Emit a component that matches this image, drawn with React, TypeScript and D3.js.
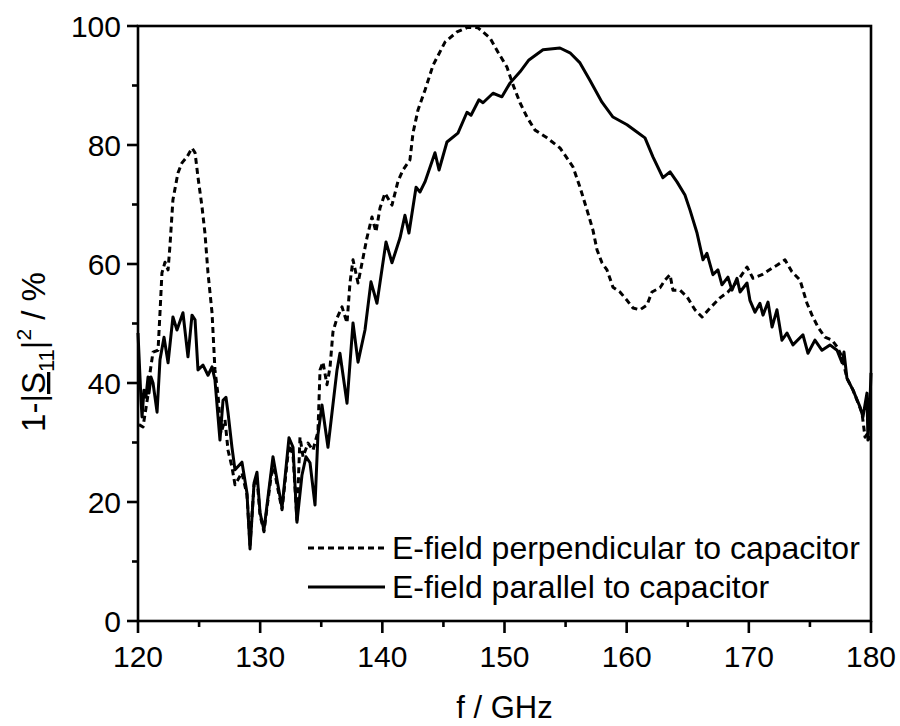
import React from "react";
import * as d3 from "d3";

const xTicks = [120, 130, 140, 150, 160, 170, 180];
const xMinorTicks = [125, 135, 145, 155, 165, 175];
const yTicks = [0, 20, 40, 60, 80, 100];
const yMinorTicks = [10, 30, 50, 70, 90];

const legendLabels = ["E-field perpendicular to capacitor", "E-field parallel to capacitor"];

// E-field perpendicular (dashed)
const perpF = [120.08, 120.41, 120.82, 120.98, 121.23, 121.64, 121.8, 121.96, 122.21, 122.46, 122.62, 122.86, 123.27, 123.6, 124.01, 124.42, 124.67, 124.91, 125.24, 125.48, 125.73, 126.06, 126.3, 126.55, 126.79, 127.12, 127.37, 127.69, 127.94, 128.51, 128.92, 129.17, 129.5, 129.74, 129.99, 130.31, 130.64, 131.05, 131.38, 131.79, 132.36, 132.69, 133.01, 133.26, 133.51, 133.92, 134.32, 134.73, 134.9, 135.14, 135.47, 135.72, 135.96, 136.29, 136.7, 137.11, 137.35, 137.6, 138.01, 138.34, 138.74, 139.15, 139.48, 139.81, 140.22, 140.79, 141.28, 141.69, 142.26, 142.51, 142.92, 143.49, 144.15, 145.13, 146.11, 147.01, 147.83, 148.81, 149.47, 150.2, 150.7, 151.27, 151.84, 152.5, 153.48, 154.54, 154.95, 155.61, 156.18, 156.75, 157.24, 157.57, 157.98, 158.39, 158.88, 159.45, 160.03, 160.52, 161.09, 161.66, 162.07, 162.73, 163.14, 163.55, 163.79, 164.36, 164.94, 165.59, 166.17, 166.82, 167.64, 168.29, 169.03, 169.85, 170.34, 171.08, 171.9, 172.3, 172.96, 173.53, 174.19, 174.76, 175.17, 175.66, 176.23, 176.81, 177.22, 177.63, 178.03, 178.53, 179.26, 179.51, 179.75, 179.92];
const perpV = [33.0, 32.6, 38.0, 41.7, 45.2, 45.5, 51.8, 58.5, 60.3, 59.0, 63.2, 70.8, 75.3, 77.0, 78.0, 79.5, 78.7, 74.6, 69.6, 65.2, 58.5, 51.8, 42.2, 38.0, 31.6, 33.8, 28.7, 25.9, 22.9, 24.9, 21.2, 12.8, 22.9, 24.0, 17.8, 15.0, 20.3, 26.7, 22.9, 18.7, 29.6, 27.9, 17.0, 30.9, 27.6, 29.9, 28.7, 31.8, 42.2, 43.5, 39.7, 42.7, 48.6, 50.9, 52.8, 50.1, 56.8, 60.7, 56.8, 60.2, 64.4, 67.9, 65.4, 69.4, 71.9, 69.9, 73.9, 75.8, 77.5, 82.0, 85.9, 89.2, 93.4, 97.3, 99.0, 99.8, 99.7, 98.0, 95.6, 93.1, 90.1, 87.1, 84.7, 82.5, 81.2, 79.5, 78.3, 76.3, 72.9, 69.1, 65.7, 62.4, 60.2, 59.0, 56.1, 55.3, 53.9, 52.6, 52.3, 53.1, 55.3, 56.0, 57.3, 58.2, 55.6, 55.6, 54.5, 52.3, 51.1, 52.6, 54.3, 55.3, 57.0, 59.5, 57.6, 58.2, 59.3, 59.8, 60.7, 58.7, 57.3, 53.4, 51.4, 49.4, 47.7, 47.2, 46.1, 44.4, 40.8, 38.8, 35.0, 30.9, 31.6, 30.4];

// E-field parallel (solid)
const parF = [120.0, 120.25, 120.33, 120.49, 120.65, 120.82, 120.9, 121.06, 121.23, 121.56, 121.8, 122.13, 122.46, 122.86, 123.19, 123.68, 124.09, 124.42, 124.67, 124.91, 125.32, 125.73, 126.06, 126.3, 126.71, 126.96, 127.2, 127.37, 127.69, 127.94, 128.51, 128.92, 129.17, 129.5, 129.74, 129.99, 130.31, 130.64, 131.05, 131.38, 131.79, 132.36, 132.69, 133.01, 133.42, 133.75, 134.08, 134.49, 134.73, 135.06, 135.55, 136.29, 136.53, 137.11, 137.6, 138.01, 138.58, 139.07, 139.56, 140.3, 140.79, 141.45, 141.85, 142.18, 142.76, 143.08, 143.49, 144.31, 144.64, 145.29, 146.19, 146.93, 147.26, 147.91, 148.24, 149.06, 149.79, 150.45, 151.27, 152.0, 153.15, 154.54, 155.36, 156.18, 156.99, 157.98, 158.88, 160.03, 160.84, 161.5, 162.15, 162.97, 163.55, 164.12, 164.77, 165.18, 165.76, 166.25, 166.57, 167.06, 167.47, 167.8, 168.29, 168.62, 169.03, 169.28, 169.85, 170.09, 170.5, 170.91, 171.16, 171.57, 171.9, 172.3, 172.71, 173.12, 173.61, 174.43, 174.84, 175.41, 175.99, 176.64, 177.22, 177.63, 177.79, 178.03, 178.53, 179.1, 179.34, 179.67, 179.75, 179.92, 180.0];
const parV = [48.4, 37.0, 34.3, 38.8, 37.6, 41.0, 38.3, 41.0, 40.0, 35.1, 43.9, 47.7, 43.4, 51.1, 48.9, 51.8, 44.4, 51.4, 50.6, 42.2, 43.0, 41.3, 42.7, 40.5, 30.4, 37.1, 37.6, 35.0, 29.2, 25.4, 26.7, 21.5, 12.1, 23.2, 25.0, 18.2, 15.3, 20.8, 27.6, 23.7, 19.0, 30.8, 29.2, 16.6, 24.5, 27.6, 26.6, 19.5, 31.3, 36.3, 29.2, 42.2, 45.0, 36.6, 50.1, 43.5, 48.9, 57.0, 53.4, 63.7, 60.2, 64.4, 68.2, 65.2, 72.9, 72.1, 73.8, 78.7, 75.8, 80.5, 82.0, 85.5, 85.0, 87.6, 87.1, 88.7, 88.1, 90.4, 92.3, 94.3, 96.0, 96.3, 95.5, 93.8, 90.9, 87.2, 84.7, 83.4, 82.2, 81.2, 78.0, 74.5, 75.5, 73.8, 71.6, 69.1, 65.2, 60.7, 61.8, 58.2, 59.0, 56.5, 57.8, 55.6, 57.6, 55.3, 56.8, 53.9, 51.9, 53.4, 51.4, 53.6, 49.4, 52.3, 47.2, 48.4, 46.4, 48.1, 45.0, 47.2, 45.5, 46.4, 45.5, 43.4, 45.2, 40.8, 38.8, 36.0, 34.3, 38.3, 30.4, 37.1, 41.7];

const FONT = "'Liberation Sans', Arial, Helvetica, sans-serif";

export default function App() {
  const left = 138, right = 871, top = 26, bottom = 621;
  const x = d3.scaleLinear().domain([120, 180]).range([left, right]);
  const y = d3.scaleLinear().domain([0, 100]).range([bottom, top]);

  const line = d3.line<[number, number]>().x((d) => x(d[0])).y((d) => y(d[1]));
  const perpPts = perpF.map((f, i) => [f, perpV[i]] as [number, number]);
  const parPts = parF.map((f, i) => [f, parV[i]] as [number, number]);

  const fs = 30;
  const sw = 3;
  const dash = "6,4";

  return (
    <svg width={900} height={726} style={{ position: "absolute", left: 0, top: 0, background: "#fff" }} fontFamily={FONT}>
      <rect x={0} y={0} width={900} height={726} fill="#fff" />
      {/* curves */}
      <path d={line(perpPts) || ""} fill="none" stroke="#000" strokeWidth={sw} strokeDasharray={dash} strokeLinejoin="round" />
      <path d={line(parPts) || ""} fill="none" stroke="#000" strokeWidth={sw} strokeLinejoin="round" />

      {/* frame */}
      <rect x={left} y={top} width={right - left} height={bottom - top} fill="none" stroke="#000" strokeWidth={2.6} />

      {/* x ticks */}
      {xTicks.map((t) => (
        <g key={"xt" + t}>
          <line x1={x(t)} x2={x(t)} y1={bottom} y2={bottom + 12} stroke="#000" strokeWidth={2.6} />
          <text x={x(t)} y={bottom + 46} textAnchor="middle" fontSize={fs}>{t}</text>
        </g>
      ))}
      {xMinorTicks.map((t) => (
        <line key={"xm" + t} x1={x(t)} x2={x(t)} y1={bottom} y2={bottom + 6} stroke="#000" strokeWidth={2.6} />
      ))}
      {/* y ticks */}
      {yTicks.map((t) => (
        <g key={"yt" + t}>
          <line x1={left - 11} x2={left} y1={y(t)} y2={y(t)} stroke="#000" strokeWidth={2.6} />
          <text x={121} y={y(t) + 10.5} textAnchor="end" fontSize={fs}>{t}</text>
        </g>
      ))}
      {yMinorTicks.map((t) => (
        <line key={"ym" + t} x1={left - 6} x2={left} y1={y(t)} y2={y(t)} stroke="#000" strokeWidth={2.6} />
      ))}

      {/* axis titles */}
      <text x={(left + right) / 2} y={718} textAnchor="middle" fontSize={31}>f / GHz</text>
      <text transform="translate(45,352) rotate(-90)" textAnchor="middle" fontSize={33}>
        1-|<tspan style={{ textDecoration: "underline" }}>S</tspan>
        <tspan fontSize={22} dy={9}>11</tspan>
        <tspan dy={-9}>|</tspan>
        <tspan fontSize={21} dy={-14}>2</tspan>
        <tspan dy={14}> / %</tspan>
      </text>

      {/* legend */}
      <line x1={308} x2={385} y1={548} y2={548} stroke="#000" strokeWidth={sw} strokeDasharray={dash} />
      <text x={392} y={559} fontSize={32}>{legendLabels[0]}</text>
      <line x1={308} x2={385} y1={587} y2={587} stroke="#000" strokeWidth={sw} />
      <text x={392} y={598} fontSize={32}>{legendLabels[1]}</text>
    </svg>
  );
}
